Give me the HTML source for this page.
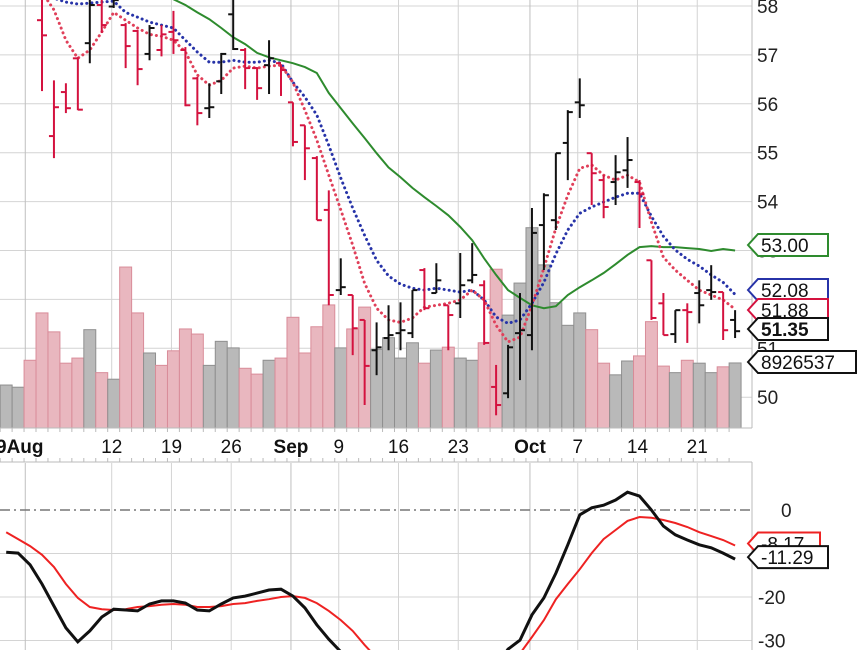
<!DOCTYPE html>
<html><head><meta charset="utf-8"><style>
html,body{margin:0;padding:0;background:#fff;overflow:hidden;width:864px;height:650px;}
svg{display:block;font-family:"Liberation Sans",sans-serif;}
</style></head><body>
<svg id="chart" width="864" height="650" viewBox="0 0 864 650">
<defs>
<clipPath id="cu"><rect x="0" y="0" width="752" height="428"/></clipPath>
<clipPath id="cl"><rect x="0" y="463" width="752" height="187"/></clipPath>
</defs>
<rect width="864" height="650" fill="#fff"/>
<g id="grid"></g>
<g id="vol" clip-path="url(#cu)"></g>
<g id="ma" clip-path="url(#cu)"></g>
<g id="ohlc" clip-path="url(#cu)"></g>
<g id="macd" clip-path="url(#cl)"></g>
<g id="axes"></g>
<g id="tags"></g>
</svg>
<script>
const openP=[57.71,55.34,56.24,56.93,57.24,58.02,57.99,57.61,57.49,57.02,57.10,57.47,57.10,56.52,55.91,56.46,57.83,57.10,56.73,56.79,56.83,56.03,55.56,54.89,53.83,52.19,52.09,51.58,50.96,51.21,51.31,51.31,52.60,52.13,51.88,51.92,52.39,52.29,50.21,50.08,51.31,51.27,53.52,53.62,55.20,56.03,54.99,54.44,54.40,54.64,54.40,52.80,51.92,51.29,51.78,52.13,52.19,52.15,51.58];
const highP=[58.32,56.48,56.42,56.95,58.32,58.22,58.18,57.65,57.51,57.61,57.61,57.90,57.16,56.55,56.42,57.04,58.32,57.14,56.75,57.30,56.81,56.03,55.56,54.93,54.23,52.84,52.09,51.58,51.53,51.88,51.94,52.19,52.64,52.74,51.88,52.95,53.15,52.39,50.66,51.07,52.13,53.87,54.17,54.99,55.87,56.52,54.99,54.54,54.95,55.32,54.44,52.80,52.13,51.78,51.92,52.39,52.70,52.15,51.78];
const lowP=[56.26,54.89,55.81,55.87,56.83,57.45,57.96,56.73,56.38,56.89,56.97,57.02,55.95,55.56,55.71,56.20,57.10,56.30,56.08,56.20,56.16,55.13,54.44,53.62,51.88,52.09,50.86,49.84,50.45,50.96,50.96,51.21,51.78,52.13,50.96,51.62,52.33,51.07,49.63,49.98,50.35,50.96,52.60,53.42,54.44,55.71,53.93,53.66,53.93,54.28,53.46,51.58,51.27,51.11,51.11,51.51,51.99,51.17,51.21];
const closeP=[57.40,55.93,55.91,55.88,58.02,57.61,58.12,57.18,56.71,57.55,57.42,57.30,55.97,55.81,55.93,57.02,57.12,56.73,56.32,56.93,56.69,55.22,55.09,53.62,52.09,52.25,51.41,50.64,51.02,51.27,51.37,52.19,51.82,52.39,51.68,52.29,52.50,51.11,49.84,51.02,51.37,53.36,54.13,54.99,55.83,55.97,54.58,53.89,54.60,54.85,54.15,51.62,51.27,51.78,51.74,51.88,52.15,51.37,51.35];
const volume=[5.9,5.6,9.3,15.8,13.2,8.9,9.6,13.5,7.6,6.7,22.1,15.8,10.3,8.6,10.6,13.6,12.9,8.6,11.9,11.0,8.2,7.4,9.3,9.6,15.2,10.3,13.9,16.9,11.0,13.6,16.6,10.8,12.4,9.6,11.7,8.9,10.7,11.1,9.6,9.3,11.7,21.8,15.5,19.9,27.5,22.4,17.2,14.1,15.8,13.5,8.9,7.3,9.2,9.9,14.6,8.5,7.6,9.3,8.9,7.6,8.4,8.93];
const volUp=[1,1,0,0,0,0,0,1,0,1,0,0,1,0,0,0,0,1,1,1,0,0,1,0,0,0,0,0,1,0,0,1,1,1,1,0,1,0,1,1,0,0,1,1,1,1,1,1,1,0,0,1,1,0,0,0,1,0,1,1,0,1];
const maShort=[58.28,57.92,57.30,56.93,57.10,57.47,57.87,57.71,57.55,57.42,57.38,57.30,57.06,56.59,56.38,56.48,56.73,56.77,56.73,56.77,56.79,56.44,55.87,55.26,54.54,53.83,53.11,52.33,51.82,51.58,51.53,51.62,51.84,51.88,51.92,51.99,52.19,51.99,51.47,51.13,51.23,51.88,52.64,53.46,54.13,54.68,54.75,54.54,54.44,54.54,54.40,53.58,52.86,52.60,52.39,52.19,52.09,51.99,51.80];
const maMid=[58.22,58.16,58.08,58.04,58.06,58.08,58.10,57.87,57.77,57.67,57.61,57.55,57.30,57.06,56.85,56.85,56.89,56.85,56.85,56.89,56.83,56.44,56.14,55.77,55.15,54.48,53.87,53.31,52.80,52.48,52.31,52.23,52.19,52.23,52.19,52.15,52.19,51.99,51.64,51.51,51.58,51.92,52.35,52.93,53.42,53.76,53.89,53.99,54.09,54.17,54.17,53.70,53.29,53.01,52.82,52.68,52.50,52.35,52.10];
const maLongStart=9;
const maLong=[58.43,58.28,58.14,58.02,57.87,57.73,57.55,57.36,57.22,57.04,56.95,56.89,56.83,56.75,56.63,56.22,55.91,55.60,55.30,54.99,54.70,54.50,54.28,54.09,53.91,53.72,53.48,53.21,52.84,52.50,52.19,52.03,51.88,51.82,51.86,52.09,52.25,52.39,52.54,52.72,52.91,53.07,53.09,53.07,53.07,53.05,53.03,52.99,53.03,53.00];
const macdLine=[-9.7,-9.9,-12.6,-17.0,-22.1,-27.1,-30.3,-27.8,-24.6,-22.8,-23.0,-23.2,-21.6,-20.9,-20.9,-21.4,-23.0,-23.2,-21.6,-20.2,-19.8,-19.1,-18.4,-18.2,-19.8,-22.5,-26.4,-29.7,-32.6,-36,-40,-43,-45,-46,-46,-45,-44,-44,-43,-42,-42,-36,-32,-29.9,-24.1,-20.2,-14.5,-8.0,-1.1,0.5,1.1,2.3,4.1,3.2,0,-3.7,-5.7,-6.9,-8.0,-8.7,-9.9,-11.29];
const signalLine=[-5.1,-6.7,-8.3,-10.3,-13.1,-17.0,-20.2,-22.3,-22.8,-23.0,-22.8,-22.3,-22.1,-21.8,-21.6,-21.8,-22.3,-22.3,-22.1,-21.6,-21.4,-20.9,-20.5,-20.0,-19.8,-20.2,-21.4,-23.2,-25.3,-27.8,-31.0,-34,-36,-38,-40,-41,-42,-42,-42,-42,-41,-39,-37,-33,-29.2,-25.3,-20.5,-17.0,-13.6,-9.9,-6.7,-4.6,-2.5,-1.6,-1.8,-2.3,-3.0,-3.9,-5.1,-6.0,-6.9,-8.17];
const priceTicks=[58,57,56,55,54,53,52,51,50];
const macdTicks=[0,-10,-20,-30];
const dateTickIdx=[-1,6,11,16,21,25,30,35,41,45,50,55];
const dateTickLabels=["9Aug","12","19","26","Sep","9","16","23","Oct","7","14","21"];
const dateTickBold=[1,0,0,0,1,0,0,0,1,0,0,0];

const NS="http://www.w3.org/2000/svg";
const xi=i=>42+11.95*i;
const yp=p=>6+(58-p)*48.9;
const yv=v=>428-v/0.1373;
const ym=m=>510-m*4.35;
function mk(tag,attrs,parent){const e=document.createElementNS(NS,tag);for(const k in attrs)e.setAttribute(k,attrs[k]);parent.appendChild(e);return e;}
const G=id=>document.getElementById(id);

const grid=G('grid');
for(let p=50;p<=58;p++){const l=mk('line',{x1:0,x2:752,y1:yp(p),y2:yp(p),stroke:'#d4d4d4','stroke-width':1},grid);

}
for(const m of [-10,-20,-30]){const l=mk('line',{x1:0,x2:752,y1:ym(m),y2:ym(m),stroke:'#d4d4d4','stroke-width':1},grid);

}
dateTickIdx.forEach((d,k)=>{const x=d<0?xi(-1.4):xi(d)-2;
for(const [a,b] of [[0,428],[463,650]]){const l=mk('line',{x1:x,x2:x,y1:a,y2:b,stroke:dateTickBold[k]?'#bfbfbf':'#d4d4d4','stroke-width':1},grid);

}});

const vg=G('vol');
volume.forEach((v,j)=>{const i=j-3,w=11.95;
const r=mk('rect',{x:xi(i)-w/2,y:yv(v),width:w,height:428-yv(v),fill:volUp[j]?'#b9b9b9':'#e9b7bf',stroke:volUp[j]?'#8f8f8f':'#d98c99','stroke-width':1},vg);

});

const mg=G('ma');
function path(arr,start,fx,fy){return arr.map((v,k)=>(k?'L':'M')+fx(k+start).toFixed(1)+','+fy(v).toFixed(1)).join(' ');}
const gl=mk('path',{d:path(maLong,maLongStart,xi,yp),fill:'none',stroke:'#2e8b2e','stroke-width':2},mg);


const bl=mk('path',{d:path(maMid,0,xi,yp),fill:'none',stroke:'#2733a8','stroke-width':3,'stroke-dasharray':'0.1 5','stroke-linecap':'round'},mg);


const rl=mk('path',{d:path(maShort,0,xi,yp),fill:'none',stroke:'#e0405a','stroke-width':3,'stroke-dasharray':'0.1 5','stroke-linecap':'round'},mg);



const og=G('ohlc');
closeP.forEach((c,i)=>{const col=volUp[i+3]?'#111':'#d4123f',x=xi(i);
const g=mk('g',{stroke:col,'stroke-width':2},og);


mk('line',{x1:x,x2:x,y1:yp(highP[i]),y2:yp(lowP[i])},g);
mk('line',{x1:x-5,x2:x,y1:yp(openP[i]),y2:yp(openP[i])},g);
mk('line',{x1:x,x2:x+5,y1:yp(c),y2:yp(c)},g);});

const mc=G('macd');
const zl=mk('line',{x1:0,x2:752,y1:ym(0),y2:ym(0),stroke:'#777','stroke-width':1.5,'stroke-dasharray':'10 4 2 4'},mc);


const sl=mk('path',{d:path(signalLine,-3,xi,ym),fill:'none',stroke:'#ee2222','stroke-width':2},mc);


const ml=mk('path',{d:path(macdLine,-3,xi,ym),fill:'none',stroke:'#111','stroke-width':3},mc);



const ax=G('axes');
mk('line',{x1:752,x2:752,y1:0,y2:428,stroke:'#bbb'},ax);
mk('line',{x1:0,x2:752,y1:428,y2:428,stroke:'#bbb'},ax);
mk('line',{x1:0,x2:752,y1:462,y2:462,stroke:'#bbb'},ax);
mk('line',{x1:752,x2:752,y1:462,y2:650,stroke:'#bbb'},ax);
for(let i=-3;i<=58;i++){mk('line',{x1:xi(i)-6,x2:xi(i)-6,y1:428,y2:432,stroke:'#bbb'},ax);mk('line',{x1:xi(i)-6,x2:xi(i)-6,y1:458,y2:462,stroke:'#bbb'},ax);}
priceTicks.forEach(p=>{const t=mk('text',{x:757,y:yp(p)+7,'font-size':19,fill:'#222'},ax);t.textContent=p;

});
macdTicks.forEach(m=>{const t=mk('text',{x:m===0?781:758,y:ym(m)+7,'font-size':19,fill:'#222'},ax);t.textContent=m;

});
dateTickIdx.forEach((d,k)=>{const x=d<0?-4:xi(d)-2;const t=mk('text',{x:x,y:453,'font-size':19,'font-weight':dateTickBold[k]?'bold':'normal','text-anchor':d<0?'start':'middle',fill:'#111'},ax);
t.textContent=dateTickLabels[k];

});

const tg=G('tags');
function tag(y,txt,col,w,bold,name){const g=mk('g',{},tg);


mk('polygon',{points:`748,${y} 758,${y-11} ${758+w},${y-11} ${758+w},${y+11} 758,${y+11}`,fill:'#fff',stroke:col,'stroke-width':2},g);
const t=mk('text',{x:761,y:y+7,'font-size':19,'font-weight':bold?'bold':'normal',fill:'#111'},g);t.textContent=txt;}
tag(245,maLong[maLong.length-1].toFixed(2),'#2e8b2e',70,false,'long-ma-tag');
tag(290,'52.08','#2733a8',70,false,'mid-ma-tag');
tag(310,'51.88','#d4123f',70,false,'short-ma-tag');
tag(329,closeP[closeP.length-1].toFixed(2),'#111',70,true,'close-tag');
tag(362,'8926537','#111',98,false,'volume-tag');
tag(ym(signalLine[signalLine.length-1])-2,signalLine[signalLine.length-1].toFixed(2),'#ee2222',62,false,'signal-tag');
tag(ym(macdLine[macdLine.length-1])-2,macdLine[macdLine.length-1].toFixed(2),'#111',70,false,'macd-tag');
</script>
</body></html>
